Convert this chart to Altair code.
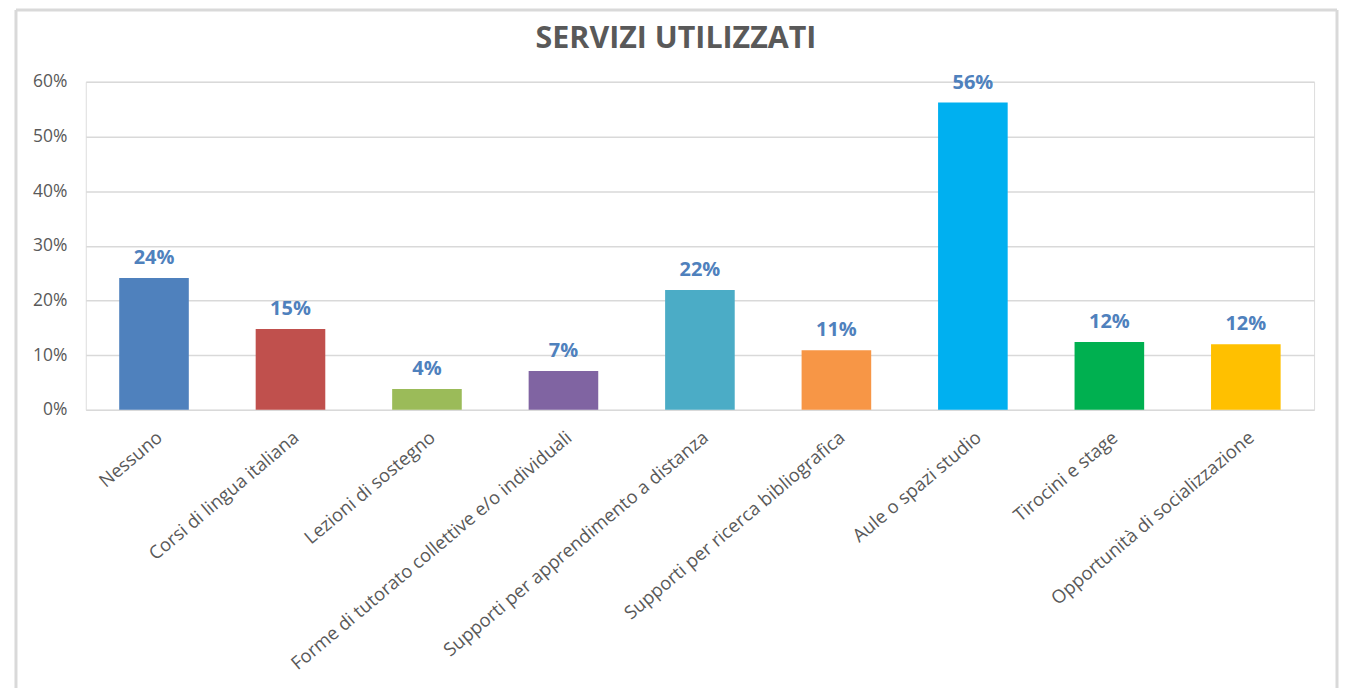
import altair as alt
import pandas as pd

categories = [
    "Nessuno",
    "Corsi di lingua italiana",
    "Lezioni di sostegno",
    "Forme di tutorato collettive e/o individuali",
    "Supporti per apprendimento a distanza",
    "Supporti per ricerca bibliografica",
    "Aule o spazi studio",
    "Tirocini e stage",
    "Opportunità di socializzazione",
]
values = [0.241, 0.148, 0.038, 0.071, 0.219, 0.109, 0.562, 0.124, 0.120]
colors = ["#4F81BD", "#C0504D", "#9BBB59", "#8064A2", "#4BACC6",
          "#F79646", "#00B0F0", "#00B050", "#FFC000"]
y_ticks = [0, 0.1, 0.2, 0.3, 0.4, 0.5, 0.6]
title_text = "SERVIZI UTILIZZATI"

df = pd.DataFrame({"cat": categories, "val": values, "col": colors})

FONT = "Open Sans"
GRAY = "#595959"

x_enc = alt.X(
    "cat:N", sort=categories, title=None,
    scale=alt.Scale(paddingInner=0.49, paddingOuter=0.245),
    axis=alt.Axis(labelAngle=-40, labelAlign="right", labelBaseline="top",
                  labelFont=FONT, labelFontSize=18.5, labelColor=GRAY,
                  labelPadding=18, ticks=False, domain=False, labelLimit=700),
)
y_enc = alt.Y(
    "val:Q", title=None,
    scale=alt.Scale(domain=[0, 0.6], nice=False),
    axis=alt.Axis(values=y_ticks, format=".0%", labelFont=FONT, labelFontSize=17.5,
                  labelColor=GRAY, labelPadding=19, ticks=False, domain=False,
                  gridColor="#d9d9d9", gridWidth=1.5),
)

bars = alt.Chart(df).mark_bar().encode(
    x=x_enc, y=y_enc, color=alt.Color("col:N", scale=None)
)
labels = alt.Chart(df).mark_text(
    font=FONT, fontSize=20, fontWeight="bold", color="#4F81BD",
    baseline="bottom", dy=-10
).encode(x=alt.X("cat:N", sort=categories), y="val:Q",
         text=alt.Text("val:Q", format=".0%"))

frame_df = pd.DataFrame({"k": [1]})
left = alt.Chart(frame_df).mark_rule(color="#d9d9d9", strokeWidth=3).encode(
    x=alt.value(-70), y=alt.value(-72), y2=alt.value(620))
right = alt.Chart(frame_df).mark_rule(color="#d9d9d9", strokeWidth=3).encode(
    x=alt.value(1255), y=alt.value(-72), y2=alt.value(620))
top = alt.Chart(frame_df).mark_rule(color="#d9d9d9", strokeWidth=3).encode(
    x=alt.value(-70), x2=alt.value(1255), y=alt.value(-72))
title = alt.Chart(frame_df).mark_text(
    font=FONT, fontSize=30.5, fontWeight="bold", color=GRAY,
    align="center", baseline="middle"
).encode(x=alt.value(592), y=alt.value(-43), text=alt.value(title_text))

chart = alt.layer(bars, labels, left, right, top, title).properties(
    width=1232, height=329,
    autosize=alt.AutoSizeParams(type="none"),
    padding={"left": 78, "top": 73, "right": 26, "bottom": 278},
).configure_view(stroke=None).configure(background="white")

chart.save("out.html", embed_options={"renderer": "svg", "actions": False})
